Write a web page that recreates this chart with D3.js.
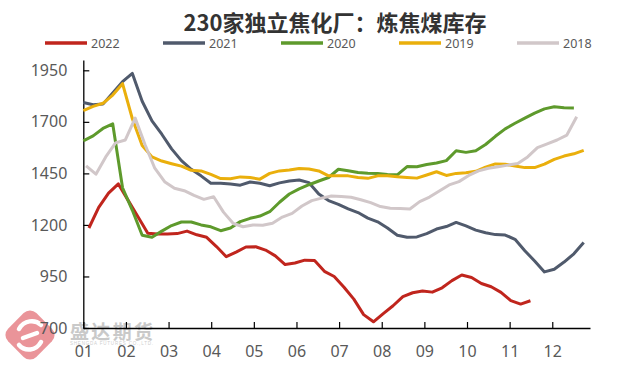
<!DOCTYPE html>
<html><head><meta charset="utf-8">
<script src="https://cdn.jsdelivr.net/npm/d3@7/dist/d3.min.js"></script>
<style>body{margin:0;background:#fff;}svg{display:block;}</style>
</head><body>
<svg id="chart" width="634" height="366"></svg>
<script>
// ---------- data ----------
const title = "230家独立焦化厂：炼焦煤库存";
const years = ["2022", "2021", "2020", "2019", "2018"];
const colors = ["#C0251D", "#505A6C", "#5E9A2C", "#EAAF0C", "#D1C7C9"];
// day of year of first weekly observation for each series
const startDays = [4, 0, 0, 0, 2];
const monthLabels = ["01","02","03","04","05","06","07","08","09","10","11","12"];
const yTicks = [700, 950, 1200, 1450, 1700, 1950];

const v2022 = [1185,1285,1354,1399,1319,1240,1160,1156,1156,1158,1170,1152,1140,1095,1046,1068,1093,1094,1078,1050,
  1008,1015,1029,1027,975,950,898,840,765,730,770,808,852,871,879,874,895,930,957,945,916,900,873,833,816,832];
const v2021 = [1794,1783,1786,1840,1895,1935,1800,1705,1640,1569,1512,1470,1438,1402,1402,1398,1393,1408,1402,1390,
  1404,1413,1418,1405,1350,1318,1300,1278,1260,1233,1215,1185,1150,1140,1142,1158,1180,1192,1212,1195,1175,1162,1153,
  1151,1130,1075,1025,972,985,1020,1060,1115];
const v2020 = [1608,1632,1668,1690,1380,1271,1150,1140,1170,1197,1214,1214,1200,1191,1172,1185,1216,1232,1243,1264,
  1310,1350,1375,1395,1413,1430,1470,1463,1454,1451,1450,1445,1443,1483,1482,1493,1500,1512,1560,1552,1560,1590,1630,
  1666,1693,1718,1742,1763,1773,1768,1767];
const v2019 = [1754,1775,1790,1830,1885,1715,1585,1530,1510,1497,1485,1465,1462,1445,1425,1424,1433,1430,1422,1450,
  1462,1466,1474,1471,1462,1438,1438,1438,1430,1426,1438,1438,1434,1430,1427,1442,1458,1440,1450,1453,1460,1480,1496,
  1494,1486,1478,1478,1495,1518,1534,1545,1562];
const v2018 = [1486,1446,1530,1598,1612,1718,1590,1475,1410,1378,1366,1343,1324,1337,1262,1207,1191,1200,1198,1208,
  1238,1256,1292,1318,1330,1340,1338,1334,1322,1308,1289,1281,1280,1277,1313,1335,1365,1394,1410,1440,1462,1475,1482,
  1490,1498,1530,1575,1593,1612,1636,1725];
const seriesValues = [v2022, v2021, v2020, v2019, v2018];

// ---------- layout ----------
const svg = d3.select("#chart");
const plotL = 83.3, plotR = 590, plotT = 60, plotB = 328;
const x = d3.scaleLinear().domain([0, 361.5]).range([plotL, plotR]);
const y = d3.scaleLinear().domain([700, 2000]).range([plotB, plotT]);
const monthDays = monthLabels.map((m, i) => i * 365 / 12);

// watermark logo
const wm = svg.append("g").attr("class", "watermark");
wm.append("rect")
  .attr("x", -20).attr("y", -20).attr("width", 40).attr("height", 40)
  .attr("rx", 9).attr("ry", 9)
  .attr("transform", "translate(30,335) rotate(45)")
  .attr("fill", "#EA9499");
wm.append("path")
  .attr("d", "M19,329 C24,320 35,319 41,325 M19,345 C25,352 36,351 41,342 M23,338 L37,333")
  .attr("fill", "none").attr("stroke", "#fff").attr("stroke-width", 4.5).attr("stroke-linecap", "round");
wm.append("text").attr("x", 70).attr("y", 339)
  .attr("font-family", "'Noto Sans CJK SC', sans-serif").attr("font-weight", "bold")
  .attr("font-size", 19).attr("fill", "#C9C9C9").attr("textLength", 83)
  .text("盛达期货");
wm.append("text").attr("x", 70).attr("y", 345)
  .attr("font-family", "'Liberation Sans', sans-serif")
  .attr("font-size", 4.5).attr("fill", "#CFCFCF").attr("textLength", 83)
  .text("SHENGDA FUTURES CO.,LTD.");

// title
svg.append("text")
  .attr("x", 335).attr("y", 31)
  .attr("text-anchor", "middle")
  .attr("font-family", "'Noto Sans CJK SC', sans-serif")
  .attr("font-weight", "bold").attr("font-size", 22)
  .attr("fill", "#333333")
  .text(title);

// legend
const legend = svg.append("g");
years.forEach((yr, i) => {
  const lx = 45 + i * 118;
  legend.append("line")
    .attr("x1", lx).attr("x2", lx + 42).attr("y1", 43).attr("y2", 43)
    .attr("stroke", colors[i]).attr("stroke-width", 3.5);
  legend.append("text")
    .attr("x", lx + 46).attr("y", 47.5)
    .attr("font-family", "'Noto Sans', 'Liberation Sans', sans-serif")
    .attr("font-size", 12.5).attr("fill", "#595959")
    .text(yr);
});

// axes
const xAxis = d3.axisBottom(x)
  .tickValues(monthDays)
  .tickFormat((d, i) => monthLabels[i])
  .tickSizeInner(-6).tickSizeOuter(0);
const gx = svg.append("g").attr("transform", `translate(0,${plotB})`).call(xAxis);
gx.select(".domain").attr("stroke", "#000").attr("stroke-width", 1.3);
gx.selectAll(".tick line").attr("stroke", "#000").attr("stroke-width", 1.2);
gx.selectAll(".tick text")
  .attr("y", 29).attr("dy", null)
  .attr("font-family", "'Noto Sans', sans-serif").attr("font-size", 16).attr("fill", "#595959");

const yAxis = d3.axisLeft(y)
  .tickValues(yTicks)
  .tickFormat(d3.format("d"))
  .tickSizeInner(-6).tickSizeOuter(0).tickPadding(16);
const gy = svg.append("g").attr("transform", `translate(${plotL},0)`).call(yAxis);
gy.select(".domain").attr("stroke", "#000").attr("stroke-width", 1.3);
gy.selectAll(".tick line").attr("stroke", "#000").attr("stroke-width", 1.2);
gy.selectAll(".tick text")
  .attr("font-family", "'Noto Sans', sans-serif").attr("font-size", 16).attr("fill", "#595959");

// lines
const line = d3.line().x(d => x(d.day)).y(d => y(d.v));
seriesValues.forEach((vals, i) => {
  const pts = vals.map((v, k) => ({ day: startDays[i] + 7 * k, v }));
  svg.append("path")
    .datum(pts)
    .attr("d", line)
    .attr("fill", "none")
    .attr("stroke", colors[i])
    .attr("stroke-width", 3)
    .attr("stroke-linejoin", "round");
});
</script>
</body></html>
